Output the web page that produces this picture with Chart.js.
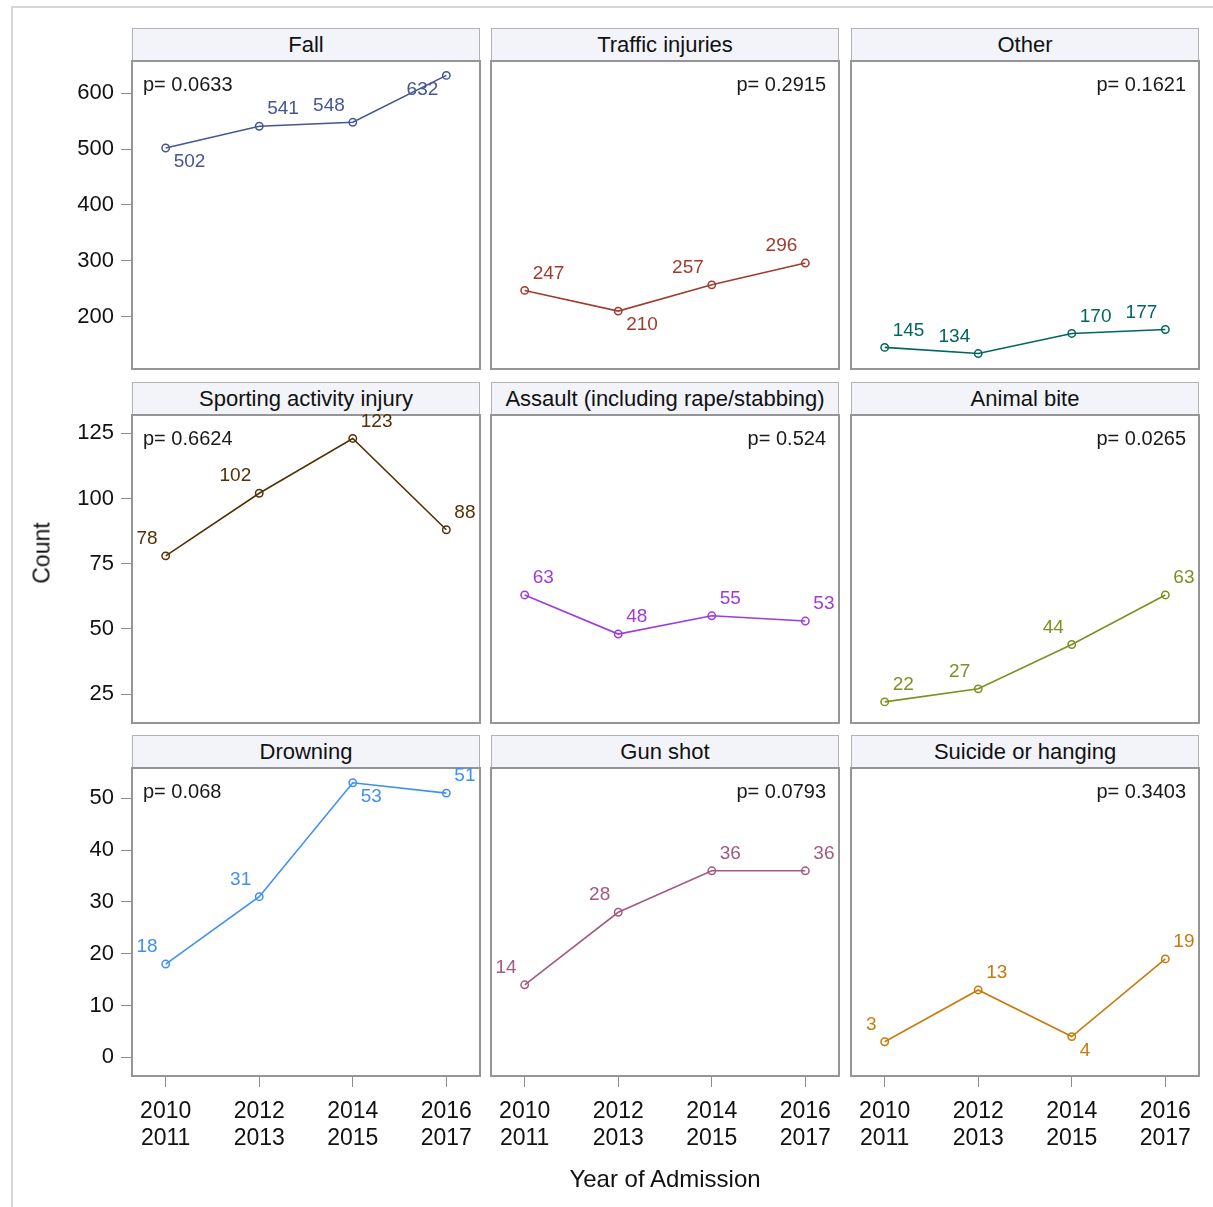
<!DOCTYPE html>
<html>
<head>
<meta charset="utf-8">
<script src="https://cdn.jsdelivr.net/npm/chart.js@4.4.1/dist/chart.umd.min.js"></script>
<style>
  html, body { margin: 0; padding: 0; background: #fff; }
  body { width: 1213px; height: 1207px; position: relative; overflow: hidden;
         font-family: "Liberation Sans", Arial, sans-serif; }
  #frame { position: absolute; left: 11px; top: 6px; width: 1240px; height: 1240px;
           border-left: 2px solid #d6d6d6; border-top: 2px solid #d6d6d6; }
  .hdr { position: absolute; box-sizing: border-box; width: 348px; height: 33px;
         background: #f2f4fa; border: 1px solid #b3b3b3; text-align: center;
         font-size: 22px; line-height: 31px; color: #111; white-space: nowrap; }
  canvas { position: absolute; }
  .axt { position: absolute; font-size: 23px; color: #111; white-space: nowrap; }
</style>
</head>
<body>
<div id="frame"></div>
<div id="root"></div>
<div class="axt" id="ytitle">Count</div>
<div class="axt" id="xtitle">Year of Admission</div>
<script>
// ---- data ----
const yearLabels = [['2010', '2011'], ['2012', '2013'], ['2014', '2015'], ['2016', '2017']];

const panelTitles = [
  'Fall', 'Traffic injuries', 'Other',
  'Sporting activity injury', 'Assault (including rape/stabbing)', 'Animal bite',
  'Drowning', 'Gun shot', 'Suicide or hanging'
];

const fall      = [502, 541, 548, 632];
const traffic   = [247, 210, 257, 296];
const other     = [145, 134, 170, 177];
const sporting  = [78, 102, 123, 88];
const assault   = [63, 48, 55, 53];
const animal    = [22, 27, 44, 63];
const drowning  = [18, 31, 53, 51];
const gunshot   = [14, 28, 36, 36];
const suicide   = [3, 13, 4, 19];

const pValues = ['0.0633', '0.2915', '0.1621', '0.6624', '0.524', '0.0265', '0.068', '0.0793', '0.3403'];

// y tick labels for each row of panels
const rowTicks = [
  [200, 300, 400, 500, 600],
  [25, 50, 75, 100, 125],
  [0, 10, 20, 30, 40, 50]
];

// ---- presentation ----
const seriesList = [fall, traffic, other, sporting, assault, animal, drowning, gunshot, suicide];
const seriesColors = ['#445694', '#A23A2E', '#01665E', '#543005', '#9D3CDB',
                      '#7F8E1F', '#3F8FF5', '#A45A80', '#C97A0A'];
const rowRange = [[106.3, 657.8], [13.9, 132.0], [-3.61, 55.85]];
// where each value label sits relative to its marker
const labelSpots = [
  ['se', 'ne', 'nw', 'sw'], ['ne', 'se', 'nw', 'nw'], ['ne', 'nw', 'ne', 'nw'],
  ['nw', 'nw', 'ne', 'ne'], ['ne', 'ne', 'ne', 'ne'], ['ne', 'nw', 'nw', 'ne'],
  ['nw', 'nw', 'se', 'ne'], ['nw', 'nw', 'ne', 'ne'], ['nw', 'ne', 'se', 'ne']
];

const FONT = '"Liberation Sans", Arial, sans-serif';
const colLeft = [132, 491, 851];
const headTop = [28, 382, 735];
const plotTop = [61, 415, 768];
const PW = 348, PH = 308;
const YAXIS_W = 120, XAXIS_H = 100, PAD = 2;

const panelDecor = {
  id: 'panelDecor',
  afterDatasetsDraw(chart, args, o) {
    const { ctx, chartArea: a } = chart;
    ctx.save();
    ctx.strokeStyle = '#959595';
    ctx.lineWidth = 2;
    ctx.strokeRect(a.left, a.top, a.right - a.left, a.bottom - a.top);

    const meta = chart.getDatasetMeta(0);
    ctx.font = '19px ' + FONT;
    ctx.fillStyle = o.color;
    ctx.textBaseline = 'middle';
    meta.data.forEach((pt, i) => {
      const spot = o.spots[i];
      const east = spot.endsWith('e');
      const north = spot.startsWith('n');
      ctx.textAlign = east ? 'left' : 'right';
      ctx.fillText(String(o.values[i]), pt.x + (east ? 8 : -8), pt.y + (north ? -17 : 14));
    });

    ctx.fillStyle = '#1a1a1a';
    ctx.font = '20px ' + FONT;
    const txt = 'p= ' + o.p;
    if (o.pLeft) { ctx.textAlign = 'left'; ctx.fillText(txt, a.left + 11, a.top + 24); }
    else { ctx.textAlign = 'right'; ctx.fillText(txt, a.right - 13, a.top + 24); }
    ctx.restore();
  }
};

const root = document.getElementById('root');

for (let r = 0; r < 3; r++) {
  for (let c = 0; c < 3; c++) {
    const k = r * 3 + c;
    const hdr = document.createElement('div');
    hdr.className = 'hdr';
    hdr.style.left = colLeft[c] + 'px';
    hdr.style.top = headTop[r] + 'px';
    hdr.textContent = panelTitles[k];
    root.appendChild(hdr);

    const showY = c === 0, showX = r === 2;
    const cv = document.createElement('canvas');
    const left = colLeft[c] - (showY ? YAXIS_W : PAD);
    const top = plotTop[r] - PAD;
    const w = PW + (showY ? YAXIS_W : PAD) + PAD;
    const h = PAD + PH + (showX ? XAXIS_H : PAD);
    cv.width = w; cv.height = h;
    cv.style.left = left + 'px'; cv.style.top = top + 'px';
    cv.style.width = w + 'px'; cv.style.height = h + 'px';
    root.appendChild(cv);

    const vals = seriesList[k];
    new Chart(cv, {
      type: 'line',
      data: {
        datasets: [{
          data: vals.map((v, i) => ({ x: i, y: v })),
          borderColor: seriesColors[k],
          borderWidth: 1.6,
          pointRadius: 3.7,
          pointBorderWidth: 1.5,
          pointBorderColor: seriesColors[k],
          pointBackgroundColor: 'rgba(255,255,255,0)',
          tension: 0,
          clip: false
        }]
      },
      options: {
        responsive: false,
        animation: false,
        devicePixelRatio: 1,
        events: [],
        layout: {
          autoPadding: false,
          padding: { left: showY ? 0 : PAD, right: PAD, top: PAD, bottom: showX ? 0 : PAD }
        },
        scales: {
          x: {
            type: 'linear',
            min: -0.36, max: 3.36,
            display: showX,
            afterBuildTicks: s => { s.ticks = yearLabels.map((_, i) => ({ value: i })); },
            afterFit: s => {
              s.height = showX ? XAXIS_H : 0;
              s.paddingLeft = 0; s.paddingRight = 0;
            },
            grid: { drawOnChartArea: false, drawTicks: true, tickLength: 11, color: '#8c8c8c', lineWidth: 1 },
            border: { display: false },
            ticks: {
              autoSkip: false, maxRotation: 0, padding: 11, color: '#111',
              font: { family: FONT, size: 23, lineHeight: 1.17 },
              callback: v => yearLabels[v]
            }
          },
          y: {
            type: 'linear',
            min: rowRange[r][0], max: rowRange[r][1],
            display: showY,
            afterBuildTicks: s => { s.ticks = rowTicks[r].map(v => ({ value: v })); },
            afterFit: s => {
              s.width = showY ? YAXIS_W : 0;
              s.paddingTop = 0; s.paddingBottom = 0;
            },
            grid: { drawOnChartArea: false, drawTicks: true, tickLength: 11, color: '#8c8c8c', lineWidth: 1 },
            border: { display: false },
            ticks: { padding: 7, color: '#111', font: { family: FONT, size: 22 }, callback: v => String(v) }
          }
        },
        plugins: {
          legend: { display: false },
          tooltip: { enabled: false },
          panelDecor: {
            color: seriesColors[k],
            values: vals,
            spots: labelSpots[k],
            p: pValues[k],
            pLeft: c === 0
          }
        }
      },
      plugins: [panelDecor]
    });
  }
}

// axis titles
const yt = document.getElementById('ytitle');
yt.style.left = '42px'; yt.style.top = '553px';
yt.style.transform = 'translate(-50%, -50%) rotate(-90deg)';
const xt = document.getElementById('xtitle');
xt.style.left = '665px'; xt.style.top = '1179px';
xt.style.fontSize = '24px';
xt.style.transform = 'translate(-50%, -50%)';
</script>
</body>
</html>
